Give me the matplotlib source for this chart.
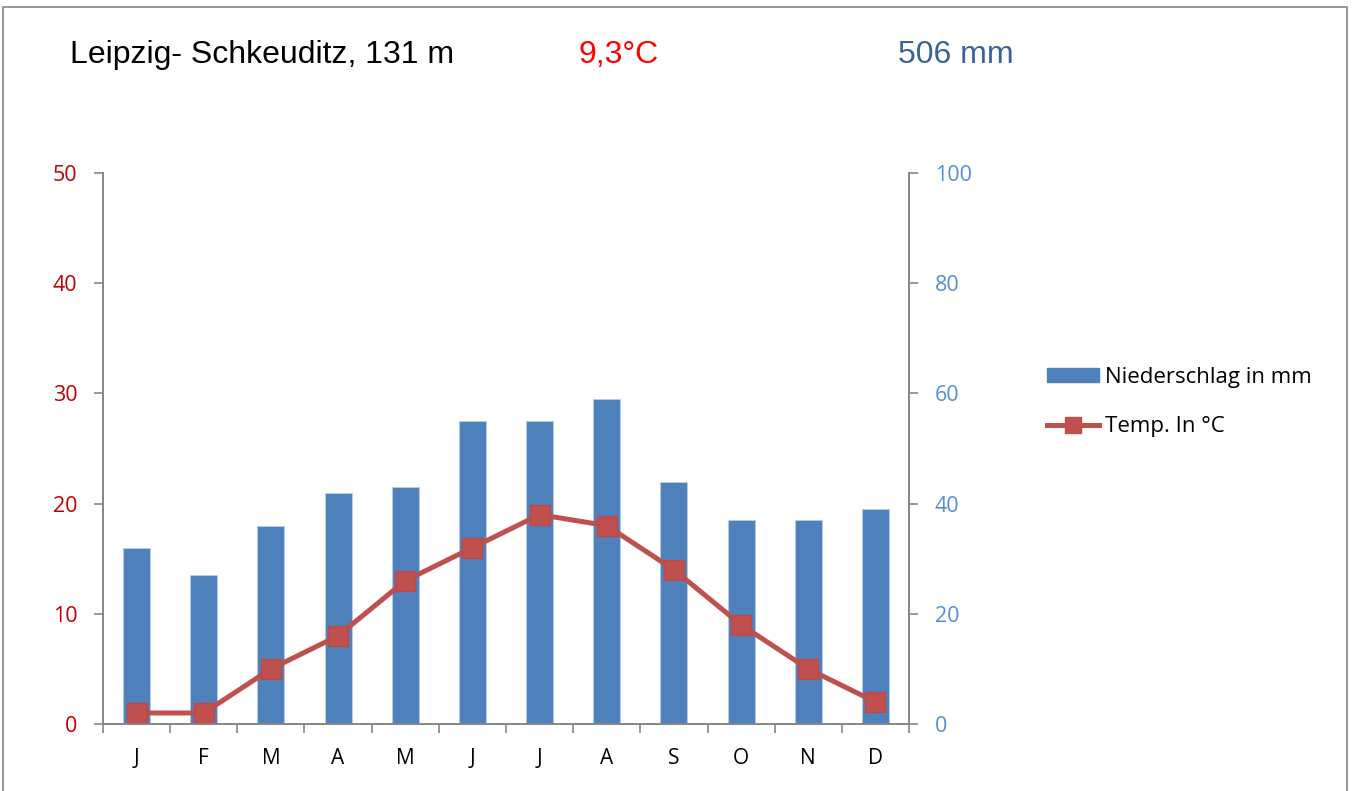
import matplotlib.pyplot as plt
import numpy as np
from matplotlib.patches import Rectangle
from matplotlib.lines import Line2D

months = ["J", "F", "M", "A", "M", "J", "J", "A", "S", "O", "N", "D"]
precip = [32, 27, 36, 42, 43, 55, 55, 59, 44, 37, 37, 39]
temp = [1, 1, 5, 8, 13, 16, 19, 18, 14, 9, 5, 2]

station = "Leipzig- Schkeuditz, 131 m"
mean_temp = "9,3°C"
total_precip = "506 mm"

plt.rcParams['font.family'] = ['Open Sans', 'DejaVu Sans']
axis_grey = "#868686"

fig = plt.figure(figsize=(13.52, 7.91), dpi=100)
ax = fig.add_axes([103 / 1352, 1 - 724 / 791, (909 - 103) / 1352, (724 - 173) / 791])
ax2 = ax.twinx()
ax.set_zorder(ax2.get_zorder() + 1)
ax.patch.set_visible(False)

x = np.arange(len(months))
ax2.bar(x, precip, width=0.4, color="#4F81BD", edgecolor="#B9CDE5", linewidth=0.6)
ax.plot(x, temp, color="#C0504D", lw=3.6, marker="s", markersize=14,
        markerfacecolor="#C0504D", markeredgecolor="#B84A47")

ax.set_xlim(-0.5, 11.5)
ax.set_ylim(0, 50)
ax2.set_ylim(0, 100)
ax.set_yticks(range(0, 51, 10))
ax2.set_yticks(range(0, 101, 20))

# ticks between the months, labels in the middle
ax.set_xticks(np.arange(-0.5, 12, 1))
ax.set_xticklabels([])
ax.set_xticks(x, minor=True)
ax.set_xticklabels(months, minor=True)
ax.tick_params(axis="x", which="major", direction="out", length=6.5, color=axis_grey, width=1.2)
ax.tick_params(axis="x", which="minor", length=0, pad=17, labelsize=15, labelcolor="black")
ax.tick_params(axis="y", direction="out", length=6.5, color=axis_grey, width=1.2,
               labelsize=15.5, labelcolor="#C00000", pad=12)
ax2.tick_params(axis="y", direction="out", length=6.5, color=axis_grey, width=1.2,
                labelsize=15.5, labelcolor="#558ED5", pad=12)

for a in (ax, ax2):
    a.spines["top"].set_visible(False)
    for s in ("left", "right", "bottom"):
        a.spines[s].set_color(axis_grey)
        a.spines[s].set_linewidth(1.2)

ty = 1 - 63 / 791
fig.text(70 / 1352, ty, station, fontsize=23, family="Liberation Sans",
         va="baseline", ha="left", color="black")
fig.text(578 / 1352, ty, mean_temp, fontsize=23, family="Liberation Sans",
         va="baseline", ha="left", color="#FF0000")
fig.text(898 / 1352, ty, total_precip, fontsize=23, family="Liberation Sans",
         va="baseline", ha="left", color="#3A6395")

handles = [Rectangle((0, 0), 1, 1, color="#4F81BD"),
           Line2D([], [], color="#C0504D", lw=3.6, marker="s", markersize=12)]
fig.legend(handles, ["Niederschlag in mm", "Temp. In °C"], loc="center left",
           bbox_to_anchor=(1047 / 1352, 1 - 402 / 791), frameon=False, fontsize=16,
           handlelength=2.35, handleheight=0.6, handletextpad=0.25, labelspacing=1.3,
           borderpad=0, borderaxespad=0)

fig.add_artist(Rectangle((3 / 1352, -0.05), 1344 / 1352, 1.05 - 7 / 791,
                         transform=fig.transFigure, fill=False,
                         edgecolor=axis_grey, linewidth=1.2))

fig.savefig("out.png", dpi=100)
